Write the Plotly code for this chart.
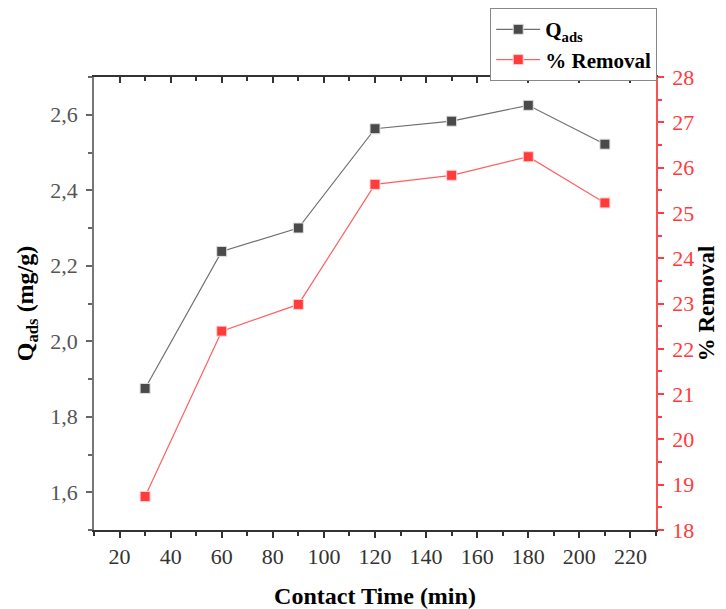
import plotly.graph_objects as go

time_min = [30, 60, 90, 120, 150, 180, 210]
qads = [1.875, 2.238, 2.300, 2.563, 2.583, 2.625, 2.522]
removal = [18.74, 22.39, 22.98, 25.63, 25.83, 26.24, 25.22]

x_ticks = [20, 40, 60, 80, 100, 120, 140, 160, 180, 200, 220]
left_ticks = [1.6, 1.8, 2.0, 2.2, 2.4, 2.6]
right_ticks = list(range(18, 29))

GRAY = "#4a4a4a"
RED = "#ff3b3b"
FONT = "Liberation Serif"

fig = go.Figure()
fig.add_trace(go.Scatter(
    x=time_min, y=qads, mode="lines+markers", name="<b>Q<sub>ads</sub></b>",
    line=dict(color="#6f6f6f", width=1.2),
    marker=dict(symbol="square", size=10, color=GRAY, line=dict(color="#e0e0e0", width=1)),
    yaxis="y", xaxis="x"))
fig.add_trace(go.Scatter(
    x=time_min, y=removal, mode="lines+markers", name="<b>% Removal</b>",
    line=dict(color="#ff6060", width=1.2),
    marker=dict(symbol="square", size=10, color=RED, line=dict(color="#ffd0d0", width=1)),
    yaxis="y2", xaxis="x"))
# invisible trace to carry the top mirror axis
fig.add_trace(go.Scatter(x=time_min, y=qads, mode="markers", marker=dict(opacity=0),
                         showlegend=False, hoverinfo="skip", xaxis="x2", yaxis="y"))

fig.update_layout(
    width=718, height=601,
    paper_bgcolor="white", plot_bgcolor="white",
    separators=",.",
    margin=dict(l=86, r=70, t=69, b=79, autoexpand=False),
    font=dict(family=FONT, size=22, color="black"),
    showlegend=True,
    legend=dict(x=0.705, xanchor="left", y=1.152, yanchor="top",
                bordercolor="#888888", borderwidth=1, bgcolor="white",
                font=dict(family=FONT, size=21, color="black"),
                tracegroupgap=0, itemwidth=44),
    xaxis=dict(range=[10, 230], tickvals=x_ticks, ticks="outside", ticklen=6,
               tickwidth=1.5, tickcolor="#333333", showline=True, linecolor="#333333",
               linewidth=1.5, showgrid=False, zeroline=False,
               minor=dict(dtick=10, tick0=0, ticks="outside", ticklen=4, tickcolor="#333333"),
               tickfont=dict(family=FONT, size=22, color="#333333"),
               title=dict(text="<b>Contact Time (min)</b>", standoff=22,
                          font=dict(family=FONT, size=24, color="black"))),
    xaxis2=dict(range=[10, 230], overlaying="x", side="top", tickvals=x_ticks,
                ticks="inside", ticklen=6, tickwidth=1.5, tickcolor="#333333",
                showticklabels=False, showline=True, linecolor="#333333", linewidth=1.5,
                showgrid=False, zeroline=False,
                minor=dict(dtick=10, tick0=0, ticks="inside", ticklen=4, tickcolor="#333333")),
    yaxis=dict(range=[1.5, 2.7], tickvals=left_ticks, tickformat=".1f", ticks="outside",
               ticklen=6, tickwidth=1.5, tickcolor="#666666", showline=True,
               linecolor="#777777", linewidth=1.5, showgrid=False, zeroline=False,
               ticklabelstandoff=4,
               minor=dict(dtick=0.1, tick0=0, ticks="outside", ticklen=4, tickcolor="#666666"),
               tickfont=dict(family=FONT, size=22, color="#555555"),
               title=dict(text="<b>Q<sub>ads</sub> (mg/g)</b>", standoff=10,
                          font=dict(family=FONT, size=24, color="black"))),
    yaxis2=dict(range=[18, 28], tickvals=right_ticks, overlaying="y", side="right",
                ticks="outside", ticklen=6, tickwidth=1.5, tickcolor=RED, showline=True,
                linecolor="#ff5050", linewidth=1.5, showgrid=False, zeroline=False,
                ticklabelstandoff=4,
                minor=dict(dtick=0.5, tick0=0, ticks="outside", ticklen=4, tickcolor=RED),
                tickfont=dict(family=FONT, size=22, color=RED),
                title=dict(text="<b>% Removal</b>", standoff=2,
                           font=dict(family=FONT, size=23, color="black"))),
)

fig.write_html("out.html")
